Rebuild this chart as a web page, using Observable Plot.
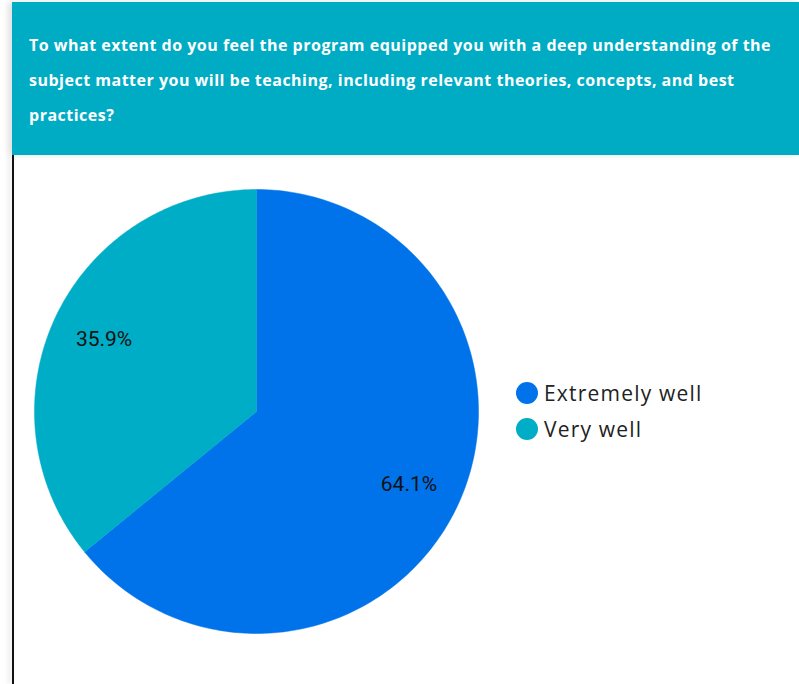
<!DOCTYPE html>
<html>
<head>
<meta charset="utf-8">
<script src="https://cdn.jsdelivr.net/npm/d3@7"></script>
<script src="https://cdn.jsdelivr.net/npm/@observablehq/plot@0.6"></script>
<style>
  html, body { margin: 0; padding: 0; background: #fff; }
  body { width: 799px; height: 684px; position: relative; overflow: hidden; font-family: "Open Sans", sans-serif; }
  #header { position: absolute; left: 12px; top: 2px; width: 787px; height: 153px; background: #00ACC4;
            box-shadow: -4px 0 6px rgba(0,0,0,0.12); }
  #header p { margin: 0; position: absolute; left: 17px; top: 26px; width: 770px; color: #fff; font-weight: 700;
              font-size: 16px; line-height: 35px; letter-spacing: 0.5px; white-space: nowrap; font-family: "Open Sans", sans-serif; }
  #chart { position: absolute; left: 0; top: 155px; }
  #leftline { position: absolute; left: 12px; top: 155px; width: 2px; height: 529px; background: #111;
              box-shadow: -3px 0 5px rgba(0,0,0,0.15); }
  #legend { position: absolute; left: 516px; top: 375px; font-family: "Open Sans", sans-serif; font-size: 21px; letter-spacing: 1.2px; color: #222; }
  .item { display: flex; align-items: center; height: 36px; }
  .sw { width: 22px; height: 22px; border-radius: 50%; margin-right: 6px; }
</style>
</head>
<body>
<div id="header"><p id="title"></p></div>
<div id="leftline"></div>
<div id="chart"></div>
<div id="legend"></div>
<script>
const titleLines = [
  "To what extent do you feel the program equipped you with a deep understanding of the",
  "subject matter you will be teaching, including relevant theories, concepts, and best",
  "practices?"
];
const categories = ["Extremely well", "Very well"];
const values = [64.1, 35.9];
const colors = ["#0073EA", "#00ADC6"];

const tEl = document.getElementById("title");
titleLines.forEach((l, i) => {
  if (i) tEl.appendChild(document.createElement("br"));
  tEl.appendChild(document.createTextNode(l));
});

const total = d3.sum(values);
const pie = d3.pie().sort(null).value(d => d.value)(categories.map((c, i) => ({category: c, value: values[i]})));

// polygon points in unit-circle data space (clockwise from top)
const polys = [];
const labels = [];
pie.forEach(s => {
  const c = s.data.category;
  polys.push({category: c, x: 0, y: 0});
  const n = 200;
  for (let k = 0; k <= n; k++) {
    const a = s.startAngle + (s.endAngle - s.startAngle) * k / n;
    polys.push({category: c, x: Math.sin(a), y: Math.cos(a)});
  }
  polys.push({category: c, x: 0, y: 0});
  const m = (s.startAngle + s.endAngle) / 2;
  labels.push({category: c, x: 0.76 * Math.sin(m), y: 0.76 * Math.cos(m), text: (s.data.value / total * 100).toFixed(1) + "%"});
});

const plot = Plot.plot({
  width: 799,
  height: 529,
  x: {domain: [-1, 1], range: [34, 478], axis: null},
  y: {domain: [-1, 1], range: [478, 34], axis: null},
  color: {domain: categories, range: colors},
  style: {background: "transparent"},
  marks: [
    Plot.line(polys, {x: "x", y: "y", z: "category", fill: "category", stroke: "category", strokeWidth: 0.5, curve: "linear"}),
    Plot.text(labels, {x: "x", y: "y", text: "text", fill: "#111", fontSize: 21, fontFamily: "Roboto, sans-serif"})
  ]
});
document.getElementById("chart").appendChild(plot);

const leg = document.getElementById("legend");
categories.forEach((c, i) => {
  const it = document.createElement("div");
  it.className = "item";
  it.innerHTML = `<span class="sw" style="background:${colors[i]}"></span><span></span>`;
  it.lastChild.textContent = c;
  leg.appendChild(it);
});
</script>
</body>
</html>
